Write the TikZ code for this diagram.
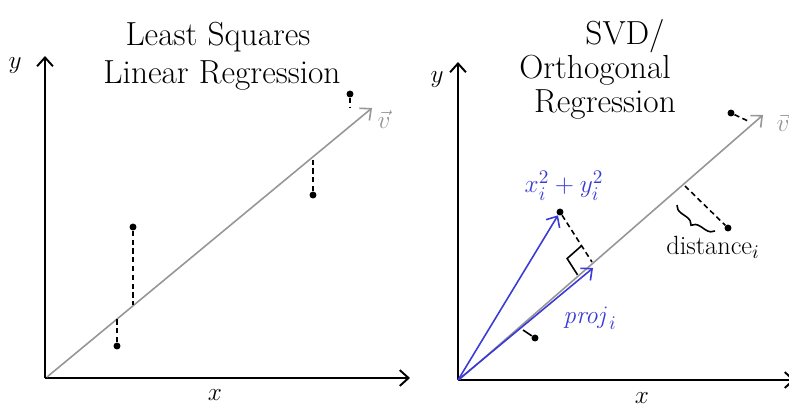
\documentclass[tikz,border=0pt]{standalone}
\usepackage{amsmath, amssymb}
\usetikzlibrary{arrows.meta, calc, decorations.pathreplacing}

\definecolor{penblue}{RGB}{58,58,214}
\definecolor{pengray}{RGB}{150,150,150}

\tikzset{
  axis/.style={line width=1.1pt, ->},
  fitline/.style={line width=0.9pt, pengray, ->},
  resid/.style={densely dashed, line width=0.9pt},
  vecblue/.style={line width=0.9pt, penblue, ->},
  dot/.style={circle, fill, inner sep=1.4pt},
  title/.style={font=\fontsize{19}{22}\selectfont, inner sep=0pt},
  lbl/.style={font=\fontsize{15}{17}\selectfont}
}

\begin{document}
\begin{tikzpicture}[x=0.02cm, y=-0.02cm, >={Straight Barb[length=5pt, width=9pt]}]
  \useasboundingbox (0,0) rectangle (789,410);

  % least squares
  \coordinate (LO) at (45,378);
  \coordinate (LY) at (45,56);
  \coordinate (LX) at (410,378);
  \coordinate (LS) at (47,377);
  \coordinate (LV) at (372,108);
  \draw[axis] (LO) -- (LY);
  \draw[axis] (LO) -- (LX);
  \node[lbl] (ly) at (15,66) {$y$};
  \node[lbl] (lx) at (215,395) {$x$};
  \node[title] (lt1) at (218,37) {Least Squares};
  \node[title] (lt2) at (222,75) {Linear Regression};
  \draw[fitline] (LS) -- (LV);
  \node[lbl, pengray] (lv) at (384,119) {$\vec{v}$};

  \node[dot] (p1) at (133,227) {};
  \coordinate (f1) at (133,305);
  \node[dot] (p2) at (117,346) {};
  \coordinate (f2) at (117,319);
  \node[dot] (p3) at (313,195) {};
  \coordinate (f3) at (313,158);
  \node[dot] (p4) at (350,94) {};
  \coordinate (f4) at (350,108);
  \draw[resid] (p1) -- (f1);
  \draw[resid] (p2) -- (f2);
  \draw[resid] (p3) -- (f3);
  \draw[resid] (p4) -- (f4);

  % orthogonal regression
  \coordinate (RO) at (458,380);
  \coordinate (RY) at (458,62);
  \coordinate (RX) at (795,380);
  \coordinate (RS) at (460,379);
  \coordinate (RV) at (763,115);
  \draw[axis] (RO) -- (RY);
  \draw[axis] (RO) -- (RX);
  \node[lbl] (ry) at (437,80) {$y$};
  \node[lbl] (rx) at (642,398) {$x$};
  \node[title] (rt1) at (625,36) {SVD/};
  \node[title] (rt2) at (595,70) {Orthogonal};
  \node[title] (rt3) at (605,104) {Regression};
  \draw[fitline] (RS) -- (RV);
  \node[lbl, pengray] (rv) at (783,122) {$\vec{v}$};

  \node[dot] (q1) at (560,212) {};
  \coordinate (g1) at (592,262);
  \coordinate (tip2) at (593,268);
  \draw[vecblue] (RO) -- (q1);
  \draw[vecblue] (RO) -- (tip2);
  \draw[resid] (q1) -- (g1);
  \draw[line width=0.9pt] ($(g1)!11pt!(RS)$) -- ($(g1)!11pt!(RS)+(g1)!11pt!(q1)-(g1)$) -- ($(g1)!11pt!(q1)$);
  \node[lbl, penblue] (qlbl) at (564,186) {$x_i^2+y_i^2$};
  \node[lbl, penblue] (plbl) at (590,318) {$\mathit{proj}_i$};

  \node[dot] (q2) at (535,338) {};
  \coordinate (g2) at (523,330);
  \draw[line width=0.9pt] (g2) -- (q2);

  \node[dot] (q3) at (728,228) {};
  \coordinate (g3) at (685,186);
  \draw[resid] (g3) -- (q3);
  \draw[line width=0.9pt, decorate, decoration={brace, amplitude=5pt}] (715,231) -- (677,205);
  \node[lbl] (dlbl) at (713,247) {distance$_i$};

  \node[dot] (q4) at (731,113) {};
  \coordinate (g4) at (748,121);
  \draw[resid] (q4) -- (g4);
\end{tikzpicture}
\end{document}
